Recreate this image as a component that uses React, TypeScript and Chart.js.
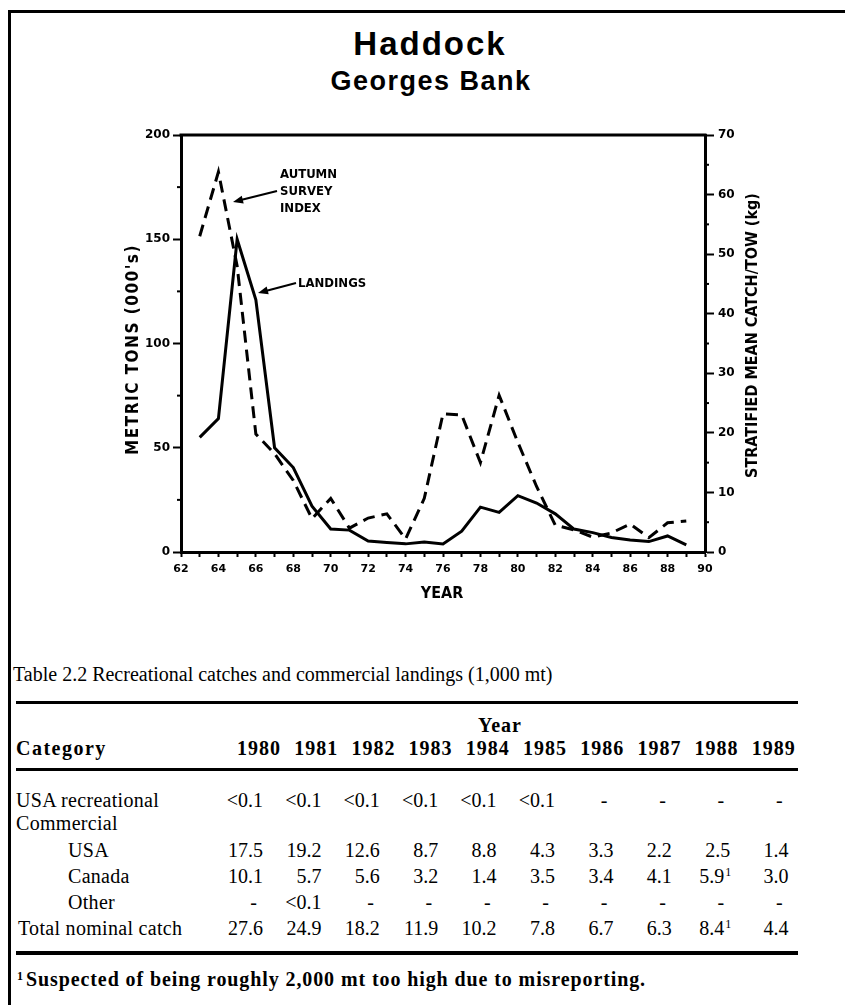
import React, { useEffect, useRef } from "react";
import { Chart, registerables } from "chart.js";

Chart.register(...registerables);

// ---------- Chart data ----------
const years = [63, 64, 65, 66, 67, 68, 69, 70, 71, 72, 73, 74, 75, 76, 77, 78, 79, 80, 81, 82, 83, 84, 85, 86, 87, 88, 89];
const landings = [55, 64, 150, 121, 50, 40.5, 22, 11, 10.5, 5.3, 4.6, 3.9, 4.8, 3.9, 10, 21.5, 19, 27, 23.5, 18.3, 11, 9.3, 7, 5.8, 5, 7.7, 3.4];
const surveyIndex = [53, 63.8, 48, 19.8, 16.5, 12, 5.6, 9, 4, 5.7, 6.4, 2.2, 9, 23.2, 23, 15, 26.3, 18.4, 11, 4.5, 3.7, 2.5, 3.2, 4.7, 2.4, 4.9, 5.2];
const xTickValues = [62, 63, 64, 65, 66, 67, 68, 69, 70, 71, 72, 73, 74, 75, 76, 77, 78, 79, 80, 81, 82, 83, 84, 85, 86, 87, 88, 89, 90];
const leftTicks = [0, 50, 100, 150, 200];
const leftMinorTicks = [25, 75, 125, 175];
const rightTicks = [0, 10, 20, 30, 40, 50, 60, 70];
const rightMinorTicks = [5, 15, 25, 35, 45, 55, 65];

// ---------- Table data ----------
const tableYears = ["1980", "1981", "1982", "1983", "1984", "1985", "1986", "1987", "1988", "1989"];
const usaRecreational = ["<0.1", "<0.1", "<0.1", "<0.1", "<0.1", "<0.1", "-", "-", "-", "-"];
const commercialUSA = ["17.5", "19.2", "12.6", "8.7", "8.8", "4.3", "3.3", "2.2", "2.5", "1.4"];
const commercialCanada = ["10.1", "5.7", "5.6", "3.2", "1.4", "3.5", "3.4", "4.1", "5.9¹", "3.0"];
const commercialOther = ["-", "<0.1", "-", "-", "-", "-", "-", "-", "-", "-"];
const totalNominal = ["27.6", "24.9", "18.2", "11.9", "10.2", "7.8", "6.7", "6.3", "8.4¹", "4.4"];

const BLACK = "#000";
const TICK_FONT = { family: "DejaVu Sans", size: 12, weight: "bold" as const };
const LABEL_FAMILY = "'DejaVu Sans Condensed', 'DejaVu Sans', sans-serif";

function drawArrow(ctx: CanvasRenderingContext2D, x1: number, y1: number, x2: number, y2: number) {
  const ang = Math.atan2(y2 - y1, x2 - x1);
  const L = 10, W = 4;
  const c = Math.cos(ang), s = Math.sin(ang);
  ctx.lineWidth = 2;
  ctx.beginPath();
  ctx.moveTo(x1, y1);
  ctx.lineTo(x2 - L * c * 0.6, y2 - L * s * 0.6);
  ctx.stroke();
  ctx.beginPath();
  ctx.moveTo(x2, y2);
  ctx.lineTo(x2 - L * c + W * s, y2 - L * s - W * c);
  ctx.lineTo(x2 - L * c - W * s, y2 - L * s + W * c);
  ctx.closePath();
  ctx.fill();
}

const decorPlugin = {
  id: "haddockDecor",
  afterDraw(chart: any) {
    const { ctx, chartArea: ca, scales } = chart;
    const y = scales.y, y1 = scales.y1;
    ctx.save();
    ctx.strokeStyle = BLACK;
    ctx.fillStyle = BLACK;
    // top frame line
    ctx.lineWidth = 3;
    ctx.beginPath();
    ctx.moveTo(ca.left - 1.5, ca.top);
    ctx.lineTo(ca.right + 1.5, ca.top);
    ctx.stroke();
    // minor ticks
    ctx.lineWidth = 2;
    leftMinorTicks.forEach((v) => {
      const py = y.getPixelForValue(v);
      ctx.beginPath();
      ctx.moveTo(ca.left - 4, py);
      ctx.lineTo(ca.left, py);
      ctx.stroke();
    });
    rightMinorTicks.forEach((v) => {
      const py = y1.getPixelForValue(v);
      ctx.beginPath();
      ctx.moveTo(ca.right, py);
      ctx.lineTo(ca.right + 4, py);
      ctx.stroke();
    });
    // axis titles
    ctx.textAlign = "center";
    ctx.textBaseline = "alphabetic";
    ctx.save();
    ctx.font = `bold 17px ${LABEL_FAMILY}`;
    (ctx as any).letterSpacing = "1.5px";
    ctx.translate(ca.left - 43, (ca.top + ca.bottom) / 2 + 6);
    ctx.rotate(-Math.PI / 2);
    ctx.fillText("METRIC TONS (000's)", 0, 0);
    ctx.restore();
    ctx.save();
    ctx.font = `bold 16px ${LABEL_FAMILY}`;
    ctx.translate(ca.right + 52, (ca.top + ca.bottom) / 2 - 8);
    ctx.rotate(-Math.PI / 2);
    ctx.fillText("STRATIFIED MEAN CATCH/TOW (kg)", 0, 0);
    ctx.restore();
    ctx.font = `bold 16px ${LABEL_FAMILY}`;
    ctx.fillText("YEAR", (ca.left + ca.right) / 2 - 1, ca.bottom + 46);
    // annotations
    ctx.font = `bold 13px ${LABEL_FAMILY}`;
    ctx.textAlign = "left";
    ctx.textBaseline = "middle";
    ctx.fillText("AUTUMN", ca.left + 99, ca.top + 40);
    ctx.fillText("SURVEY", ca.left + 99, ca.top + 57);
    ctx.fillText("INDEX", ca.left + 99, ca.top + 74);
    ctx.fillText("LANDINGS", ca.left + 117, ca.top + 149);
    drawArrow(ctx, ca.left + 96, ca.top + 56, ca.left + 52, ca.top + 67);
    drawArrow(ctx, ca.left + 115, ca.top + 148, ca.left + 77, ca.top + 158);
    ctx.restore();
  },
};

export default function App() {
  const canvasRef = useRef<HTMLCanvasElement>(null);

  useEffect(() => {
    const chart = new Chart(canvasRef.current as HTMLCanvasElement, {
      type: "line",
      data: {
        datasets: [
          {
            label: "Landings",
            data: years.map((yr, i) => ({ x: yr, y: landings[i] })),
            yAxisID: "y",
            borderColor: BLACK,
            borderWidth: 3,
            pointRadius: 0,
            tension: 0,
            fill: false,
          },
          {
            label: "Autumn survey index",
            data: years.map((yr, i) => ({ x: yr, y: surveyIndex[i] })),
            yAxisID: "y1",
            borderColor: BLACK,
            borderWidth: 3,
            borderDash: [12, 7],
            pointRadius: 0,
            tension: 0,
            fill: false,
          },
        ],
      },
      options: {
        animation: false,
        responsive: false,
        devicePixelRatio: 1,
        layout: { padding: { top: 15, left: 0, right: 0, bottom: 0 } },
        plugins: { legend: { display: false }, tooltip: { enabled: false }, title: { display: false } },
        scales: {
          x: {
            type: "linear",
            min: 62,
            max: 90,
            afterBuildTicks: (s: any) => {
              s.ticks = xTickValues.map((v) => ({ value: v }));
            },
            afterFit: (s: any) => {
              s.height = 68;
            },
            ticks: {
              autoSkip: false,
              maxRotation: 0,
              padding: 6,
              color: BLACK,
              font: { ...TICK_FONT, size: 11 },
              callback: (v: any) => (Number(v) % 2 === 0 ? String(v) : ""),
            },
            grid: { drawOnChartArea: false, drawTicks: true, tickLength: 5, tickWidth: 2, tickColor: BLACK },
            border: { display: true, color: BLACK, width: 3 },
          },
          y: {
            type: "linear",
            position: "left",
            min: 0,
            max: 200,
            afterBuildTicks: (s: any) => {
              s.ticks = leftTicks.map((v) => ({ value: v }));
            },
            afterFit: (s: any) => {
              s.width = 81;
            },
            ticks: { padding: 3, color: BLACK, font: TICK_FONT },
            grid: { drawOnChartArea: false, drawTicks: true, tickLength: 8, tickWidth: 2, tickColor: BLACK },
            border: { display: true, color: BLACK, width: 3 },
          },
          y1: {
            type: "linear",
            position: "right",
            min: 0,
            max: 70,
            afterBuildTicks: (s: any) => {
              s.ticks = rightTicks.map((v) => ({ value: v }));
            },
            afterFit: (s: any) => {
              s.width = 95;
            },
            ticks: { padding: 4, color: BLACK, font: TICK_FONT },
            grid: { drawOnChartArea: false, drawTicks: true, tickLength: 9, tickWidth: 2, tickColor: BLACK },
            border: { display: true, color: BLACK, width: 3 },
          },
        },
      },
      plugins: [decorPlugin],
    } as any);
    return () => chart.destroy();
  }, []);

  const serif = "'Liberation Serif', 'Times New Roman', serif";
  const sans = "'Liberation Sans', Arial, sans-serif";

  // text helper: x anchor, baseline y
  const T = (p: {
    x: number;
    y: number;
    size: number;
    text: string;
    bold?: boolean;
    align?: "left" | "right" | "center";
    family?: string;
    ls?: number;
    key?: string;
  }) => {
    const w = 700;
    const align = p.align || "left";
    const left = align === "left" ? p.x : align === "right" ? p.x - w : p.x - w / 2;
    return (
      <div
        key={p.key}
        style={{
          position: "absolute",
          left,
          width: w,
          top: p.y - 0.84 * p.size,
          fontSize: p.size,
          lineHeight: `${p.size}px`,
          fontFamily: p.family || serif,
          fontWeight: p.bold ? 700 : 400,
          textAlign: align,
          whiteSpace: "nowrap",
          letterSpacing: p.ls ? `${p.ls}px` : undefined,
          color: BLACK,
        }}
      >
        {p.text}
      </div>
    );
  };

  const headerRight = (i: number) => 281 + 57.2 * i;
  const valueRight = (i: number) => 263 + 58.4 * i;

  const renderValues = (vals: string[], baseline: number, rowKey: string) =>
    vals.map((v, i) => {
      const hasNote = v.endsWith("¹");
      const txt = hasNote ? v.slice(0, -1) : v;
      const isDash = txt === "-";
      const right = valueRight(i) - (isDash ? 6 : 0) - (hasNote ? 6 : 0);
      return (
        <React.Fragment key={rowKey + i}>
          {T({ x: right, y: baseline, size: 20, text: txt, align: "right" })}
          {hasNote ? T({ x: right + 1, y: baseline - 7, size: 12, text: "1" }) : null}
        </React.Fragment>
      );
    });

  const rowDefs = [
    { label: "USA recreational", x: 16, y: 807, vals: usaRecreational },
    { label: "Commercial", x: 16, y: 830, vals: [] as string[] },
    { label: "USA", x: 68, y: 857, vals: commercialUSA },
    { label: "Canada", x: 68, y: 883, vals: commercialCanada },
    { label: "Other", x: 68, y: 909, vals: commercialOther },
    { label: "Total nominal catch", x: 18, y: 935, vals: totalNominal },
  ];

  return (
    <div style={{ position: "absolute", left: 0, top: 0, width: 845, height: 1005, background: "#fff", overflow: "hidden" }}>
      {/* page frame */}
      <div style={{ position: "absolute", left: 8, top: 10, width: 837, height: 3, background: BLACK }} />
      <div style={{ position: "absolute", left: 8, top: 10, width: 3, height: 995, background: BLACK }} />

      {/* titles */}
      {T({ x: 430, y: 55, size: 33, text: "Haddock", bold: true, align: "center", family: sans, ls: 2 })}
      {T({ x: 431, y: 91, size: 27, text: "Georges Bank", bold: true, align: "center", family: sans, ls: 1.5 })}

      {/* chart */}
      <div style={{ position: "absolute", left: 100, top: 120, width: 700, height: 500 }}>
        <canvas ref={canvasRef} width={700} height={500} style={{ display: "block" }} />
      </div>

      {/* table */}
      {T({ x: 13, y: 681, size: 20, text: "Table 2.2  Recreational catches and commercial landings (1,000 mt)" })}
      <div style={{ position: "absolute", left: 16, top: 701, width: 782, height: 3, background: BLACK }} />
      {T({ x: 500, y: 732, size: 20, text: "Year", bold: true, align: "center", ls: 1 })}
      {T({ x: 16, y: 755, size: 20, text: "Category", bold: true, ls: 1.5 })}
      {tableYears.map((yr, i) => T({ key: "h" + yr, x: headerRight(i), y: 755, size: 20, text: yr, bold: true, align: "right", ls: 1 }))}
      <div style={{ position: "absolute", left: 16, top: 768, width: 782, height: 3, background: BLACK }} />
      {rowDefs.map((r) => (
        <React.Fragment key={r.label}>
          {T({ x: r.x, y: r.y, size: 20, text: r.label, ls: 0.3 })}
          {renderValues(r.vals, r.y, r.label)}
        </React.Fragment>
      ))}
      <div style={{ position: "absolute", left: 16, top: 951, width: 782, height: 4, background: BLACK }} />
      {T({ x: 17, y: 980, size: 12, text: "1", bold: true })}
      {T({ x: 26, y: 986, size: 20, text: "Suspected of being roughly 2,000 mt too high due to misreporting.", bold: true, ls: 0.9 })}
    </div>
  );
}
